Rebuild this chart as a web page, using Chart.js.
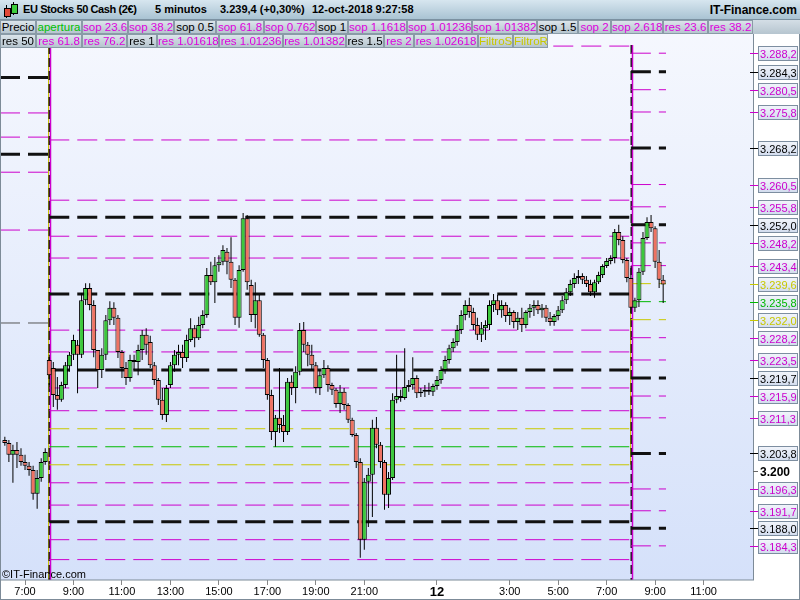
<!DOCTYPE html>
<html>
<head>
<meta charset="utf-8">
<script src="https://cdn.jsdelivr.net/npm/chart.js@4.4.1/dist/chart.umd.min.js"></script>
<style>
body { margin: 0; background: #fff; font-family: "Liberation Sans", Arial, sans-serif; }
#wrap { position: relative; width: 800px; height: 600px; overflow: hidden; }
#chart { position: absolute; left: 0; top: 0; }
#title { position: absolute; left: 0; top: 0; width: 800px; height: 20px; box-sizing: border-box;
  background: linear-gradient(#d7e6ef, #a9c3d3); border-bottom: 1px solid #7b91a1;
  font-weight: bold; font-size: 11px; }
#title span { position: absolute; top: 3px; white-space: nowrap; }
.row { position: absolute; left: 0; height: 14px; }
.btn { position: absolute; top: 0; height: 14px; box-sizing: border-box; border: 1px solid #8a9ba7;
  background: linear-gradient(#dbe4ea, #b6c5cf); font-size: 11.5px; line-height: 12px;
  text-align: center; white-space: nowrap; overflow: hidden; }
.m { color: #dd00dd; } .k { color: #000; } .g { color: #00c000; } .y { color: #c8c800; }
#copy { position: absolute; left: 2px; top: 568px; font-size: 11px; color: #000; }
</style>
</head>
<body>
<div id="wrap">
  <canvas id="chart" width="800" height="600"></canvas>

  <div id="title">
    <span style="left:3px;top:2px;width:16px;height:16px;">
      <span style="position:absolute;left:3px;top:3px;width:1px;height:13px;background:#000"></span>
      <span style="position:absolute;left:1px;top:6px;width:5px;height:7px;background:#e24a3a;border:1px solid #000"></span>
      <span style="position:absolute;left:10px;top:0px;width:1px;height:13px;background:#000"></span>
      <span style="position:absolute;left:8px;top:2px;width:5px;height:8px;background:#3ccc3c;border:1px solid #000"></span>
    </span>
    <span style="left:23px;letter-spacing:-0.4px">EU Stocks 50 Cash (2€)</span>
    <span style="left:155px">5 minutos</span>
    <span style="left:220px">3.239,4 (+0,30%)</span>
    <span style="left:312px">12-oct-2018 9:27:58</span>
    <span style="right:3px;font-size:12px">IT-Finance.com</span>
  </div>

  <div class="row" style="top:20px;width:800px;background:linear-gradient(#d4dee6,#b6c5cf);">
    <div class="btn k" style="left:0;width:36px">Precio</div>
    <div class="btn g" style="left:36px;width:46px">apertura</div>
    <div class="btn m" style="left:82px;width:46px">sop 23.6</div>
    <div class="btn m" style="left:128px;width:46px">sop 38.2</div>
    <div class="btn k" style="left:174px;width:42px">sop 0.5</div>
    <div class="btn m" style="left:216px;width:48px">sop 61.8</div>
    <div class="btn m" style="left:264px;width:52px">sop 0.762</div>
    <div class="btn k" style="left:316px;width:32px">sop 1</div>
    <div class="btn m" style="left:348px;width:59px">sop 1.1618</div>
    <div class="btn m" style="left:407px;width:65px">sop 1.01236</div>
    <div class="btn m" style="left:472px;width:65px">sop 1.01382</div>
    <div class="btn k" style="left:537px;width:41px">sop 1.5</div>
    <div class="btn m" style="left:578px;width:33px">sop 2</div>
    <div class="btn m" style="left:611px;width:52px">sop 2.618</div>
    <div class="btn m" style="left:663px;width:45px">res 23.6</div>
    <div class="btn m" style="left:708px;width:45px">res 38.2</div>
  </div>

  <div class="row" style="top:34px;width:548px;">
    <div class="btn k" style="left:0;width:36px">res 50</div>
    <div class="btn m" style="left:36px;width:46px">res 61.8</div>
    <div class="btn m" style="left:82px;width:45px">res 76.2</div>
    <div class="btn k" style="left:127px;width:30px">res 1</div>
    <div class="btn m" style="left:157px;width:62px">res 1.01618</div>
    <div class="btn m" style="left:219px;width:64px">res 1.01236</div>
    <div class="btn m" style="left:283px;width:63px">res 1.01382</div>
    <div class="btn k" style="left:346px;width:38px">res 1.5</div>
    <div class="btn m" style="left:384px;width:30px">res 2</div>
    <div class="btn m" style="left:414px;width:64px">res 1.02618</div>
    <div class="btn y" style="left:478px;width:35px">FiltroS</div>
    <div class="btn y" style="left:513px;width:35px">FiltroR</div>
  </div>

  <div id="copy">©IT-Finance.com</div>
</div>

<script>
// 10-minute bars, time in hours from 11-oct 0:00 (24 = 12-oct 0:00)
const firstBarHour = 6 + 10 / 60;
const barStepHours = 10 / 60;

const opens = [
  3206.6, 3206.0, 3203.5, 3204.5, 3203.5, 3202.0, 3201.2, 3200.3, 3195.3, 3198.6,
  3202.0, 3223.5, 3221.8, 3216.1, 3215.1, 3218.2, 3222.2, 3224.6, 3226.7, 3224.6,
  3236.1, 3238.7, 3235.1, 3225.6, 3221.4, 3224.6, 3231.9, 3234.5, 3232.4, 3225.2,
  3221.8, 3219.7, 3223.1, 3223.1, 3225.6, 3228.8, 3227.3, 3222.4, 3219.3, 3215.1,
  3211.9, 3218.2, 3222.4, 3224.6, 3225.2, 3223.9, 3227.7, 3230.2, 3228.1, 3230.9,
  3233.0, 3241.4, 3239.9, 3243.5, 3244.2, 3246.3, 3244.2, 3240.4, 3232.4, 3242.5,
  3253.4, 3239.3, 3233.0, 3236.1, 3228.8, 3223.5, 3216.1, 3208.3, 3211.3, 3209.8,
  3208.3, 3218.9, 3217.6, 3221.0, 3229.8, 3226.7, 3224.6, 3222.4, 3217.6, 3220.3,
  3221.8, 3218.2, 3217.2, 3214.2, 3216.8, 3214.0, 3210.9, 3207.7, 3202.0, 3185.6,
  3197.8, 3199.3, 3209.2, 3205.6, 3202.0, 3195.1, 3198.6, 3215.1, 3215.9, 3215.5,
  3217.8, 3218.2, 3219.7, 3216.5, 3216.8, 3217.2, 3216.8, 3218.0, 3219.3, 3221.4,
  3223.5, 3226.0, 3227.3, 3229.8, 3233.0, 3235.1, 3233.6, 3230.9, 3228.8, 3230.2,
  3230.9, 3235.1, 3236.1, 3234.0, 3235.1, 3232.8, 3233.6, 3231.5, 3232.4, 3230.9,
  3233.6, 3234.5, 3235.1, 3234.0, 3234.5, 3232.4, 3231.5, 3232.8, 3234.0, 3236.1,
  3237.8, 3239.5, 3240.8, 3241.2, 3240.4, 3239.5, 3237.8, 3239.9, 3241.4, 3243.3,
  3244.4, 3245.0, 3250.5, 3248.8, 3244.6, 3240.8, 3234.5, 3236.1, 3242.1, 3249.2,
  3252.6, 3251.3, 3244.2, 3240.4
];
const highs = [
  3207.3, 3206.6, 3205.6, 3206.2, 3204.9, 3203.5, 3202.0, 3201.2, 3200.3, 3202.8,
  3204.9, 3224.6, 3223.1, 3219.9, 3218.9, 3223.1, 3225.2, 3228.8, 3227.7, 3237.6,
  3239.7, 3239.7, 3236.1, 3225.6, 3226.0, 3233.0, 3235.9, 3235.7, 3233.0, 3225.6,
  3223.1, 3224.6, 3224.6, 3226.7, 3229.8, 3230.2, 3228.6, 3223.1, 3219.7, 3217.6,
  3218.2, 3223.1, 3225.6, 3226.7, 3226.7, 3228.8, 3232.3, 3230.9, 3232.6, 3234.0,
  3242.9, 3244.2, 3245.2, 3245.6, 3247.7, 3247.1, 3249.4, 3240.8, 3243.5, 3254.5,
  3254.1, 3240.4, 3239.9, 3237.2, 3229.2, 3223.9, 3217.2, 3211.9, 3221.8, 3211.9,
  3219.7, 3220.3, 3222.2, 3231.3, 3231.5, 3227.3, 3226.7, 3223.1, 3221.4, 3223.5,
  3222.4, 3218.7, 3217.6, 3218.2, 3217.6, 3214.4, 3211.3, 3208.1, 3202.8, 3198.6,
  3200.7, 3210.9, 3211.5, 3206.2, 3202.4, 3199.9, 3216.5, 3224.6, 3217.2, 3226.0,
  3219.3, 3224.1, 3220.3, 3217.6, 3218.2, 3218.7, 3218.5, 3220.1, 3222.2, 3224.4,
  3226.7, 3228.1, 3230.9, 3234.0, 3236.1, 3236.6, 3234.5, 3232.4, 3231.5, 3231.9,
  3236.1, 3237.4, 3237.2, 3236.1, 3235.7, 3234.5, 3234.0, 3233.6, 3234.5, 3234.0,
  3235.3, 3236.1, 3236.1, 3235.3, 3235.1, 3233.6, 3233.2, 3234.9, 3237.0, 3238.7,
  3240.4, 3241.8, 3242.5, 3241.8, 3241.2, 3240.4, 3240.4, 3242.1, 3243.7, 3245.0,
  3245.6, 3251.1, 3252.0, 3249.6, 3245.0, 3242.9, 3236.6, 3242.9, 3250.5, 3253.6,
  3254.1, 3251.7, 3246.7, 3241.4
];
const lows = [
  3205.4, 3202.0, 3197.6, 3200.7, 3201.2, 3200.3, 3199.1, 3194.0, 3192.1, 3197.8,
  3201.4, 3218.2, 3213.6, 3213.0, 3214.7, 3217.6, 3221.0, 3223.5, 3216.5, 3223.9,
  3235.1, 3234.0, 3224.1, 3217.6, 3219.7, 3223.5, 3230.9, 3230.9, 3223.9, 3219.7,
  3218.2, 3218.9, 3221.4, 3220.3, 3223.5, 3224.6, 3221.8, 3218.2, 3214.0, 3210.9,
  3210.4, 3217.6, 3221.0, 3222.4, 3221.8, 3223.1, 3227.3, 3226.2, 3227.7, 3230.2,
  3232.4, 3239.3, 3235.5, 3242.1, 3243.5, 3241.6, 3238.7, 3230.9, 3230.3, 3242.1,
  3238.3, 3231.5, 3230.2, 3228.4, 3221.8, 3215.1, 3206.6, 3205.2, 3208.1, 3206.2,
  3207.7, 3216.1, 3214.4, 3220.3, 3225.2, 3222.2, 3221.4, 3216.5, 3216.1, 3219.7,
  3216.8, 3216.1, 3213.4, 3212.3, 3213.0, 3210.2, 3207.3, 3200.7, 3181.8, 3183.5,
  3188.3, 3190.4, 3204.9, 3200.7, 3191.9, 3192.3, 3198.2, 3214.4, 3214.7, 3215.1,
  3216.8, 3217.2, 3215.5, 3215.7, 3215.7, 3216.1, 3215.9, 3217.2, 3218.5, 3220.6,
  3222.7, 3225.2, 3226.5, 3229.0, 3231.9, 3232.4, 3229.8, 3227.7, 3227.3, 3227.7,
  3229.8, 3233.6, 3233.0, 3232.4, 3231.5, 3230.9, 3230.2, 3229.8, 3229.4, 3230.2,
  3232.4, 3232.8, 3233.2, 3232.4, 3231.5, 3230.7, 3230.7, 3231.9, 3233.4, 3235.3,
  3237.0, 3238.7, 3239.5, 3239.5, 3238.9, 3237.0, 3236.6, 3239.5, 3240.8, 3242.9,
  3243.7, 3243.9, 3247.7, 3243.9, 3239.9, 3233.4, 3233.6, 3234.7, 3241.4, 3248.8,
  3250.5, 3242.9, 3238.7, 3235.5
];
const closes = [
  3206.0, 3203.5, 3204.5, 3203.5, 3202.0, 3201.2, 3200.3, 3195.3, 3198.6, 3202.0,
  3204.1, 3220.3, 3216.1, 3215.1, 3218.2, 3222.4, 3224.6, 3227.7, 3224.6, 3236.1,
  3238.7, 3235.1, 3225.6, 3221.4, 3224.6, 3231.9, 3234.5, 3232.4, 3225.2, 3221.8,
  3219.7, 3223.5, 3223.5, 3225.6, 3228.8, 3226.7, 3222.4, 3219.3, 3215.1, 3211.9,
  3217.6, 3222.4, 3224.6, 3225.2, 3223.9, 3227.7, 3230.2, 3228.1, 3230.9, 3233.0,
  3241.4, 3239.9, 3243.5, 3244.2, 3246.7, 3244.2, 3240.4, 3232.4, 3242.5, 3253.4,
  3239.9, 3233.0, 3236.1, 3228.8, 3223.5, 3216.1, 3208.3, 3211.3, 3209.8, 3208.3,
  3218.9, 3217.6, 3221.0, 3229.8, 3226.7, 3224.6, 3222.4, 3217.6, 3220.3, 3221.8,
  3218.2, 3217.2, 3214.2, 3216.8, 3214.0, 3210.9, 3207.7, 3202.0, 3185.6, 3197.8,
  3199.3, 3209.2, 3205.6, 3202.0, 3195.1, 3198.6, 3215.1, 3215.9, 3215.5, 3217.8,
  3218.2, 3219.7, 3216.5, 3216.8, 3217.2, 3216.8, 3218.0, 3219.3, 3221.4, 3223.5,
  3226.0, 3227.3, 3229.8, 3233.0, 3235.1, 3233.6, 3230.9, 3228.8, 3230.2, 3230.9,
  3235.1, 3236.1, 3234.0, 3235.1, 3232.8, 3233.6, 3231.5, 3232.4, 3230.9, 3233.6,
  3234.5, 3235.1, 3234.0, 3234.5, 3232.4, 3231.5, 3232.8, 3234.0, 3236.1, 3237.8,
  3239.5, 3240.8, 3241.2, 3240.4, 3239.5, 3237.8, 3239.9, 3241.4, 3243.3, 3244.4,
  3245.0, 3250.5, 3248.8, 3244.6, 3240.8, 3234.5, 3236.1, 3242.1, 3249.2, 3252.6,
  3251.3, 3244.2, 3240.4, 3239.4
];

// pivot levels per session: [before 8:00 11-oct, 11-oct session, 12-oct session]
const sessionStart = [5.967, 8, 32];
const sessionEnd = [8, 32, 33.45];
const magentaLevels = [
  [3275.6, 3270.5, 3263.1, 3250.9],
  [3289.7, 3269.9, 3257.2, 3249.6, 3245.0, 3229.8, 3225.2, 3217.6, 3212.8, 3197.6, 3192.9, 3185.6, 3181.4],
  [3288.2, 3280.5, 3275.8, 3260.5, 3255.8, 3248.2, 3243.4, 3228.2, 3223.5, 3215.9, 3211.3, 3196.3, 3191.7, 3184.3]
];
const blackLevels = [
  [3283.1, 3266.9],
  [3253.6, 3237.4, 3221.4, 3189.4],
  [3284.3, 3268.2, 3252.0, 3219.7, 3203.8, 3188.0]
];
const yellowLevels = [[], [3209.0, 3201.4], [3239.6, 3232.0]];
const greenLevels = [[], [3205.2], [3235.8]];
const greyLevels = [[3231.3], [], []];

const tickHours = [7, 9, 11, 13, 15, 17, 19, 21, 24, 27, 29, 31, 33, 35];
const tickLabels = ['7:00', '9:00', '11:00', '13:00', '15:00', '17:00', '19:00', '21:00', '12',
  '3:00', '5:00', '7:00', '9:00', '11:00'];
const boldTick = 3200;

const MAG = '#cc00cc', BLK = '#111', YEL = '#c8c800', GRN = '#00b800';

function fmt(v) {
  const [i, d] = v.toFixed(1).split('.');
  return i.replace(/\B(?=(\d{3})+(?!\d))/g, '.') + ',' + d;
}

function levelPoints(levels) {
  const pts = [];
  levels.forEach((day, d) => day.forEach(v => {
    pts.push({ x: sessionStart[d], y: v }, { x: sessionEnd[d], y: v }, { x: sessionEnd[d], y: null });
  }));
  return pts;
}

function levelSet(levels, color, width) {
  return {
    type: 'line', data: levelPoints(levels), borderColor: color, borderWidth: width,
    borderDash: [20, 8], pointRadius: 0, fill: false, spanGaps: false, order: 5
  };
}

const wicks = [], bodies = [], bodyColors = [];
opens.forEach((o, i) => {
  const t = firstBarHour + i * barStepHours;
  wicks.push({ x: t, y: [lows[i], highs[i]] });
  bodies.push({ x: t, y: [o, closes[i]] });
  bodyColors.push(closes[i] >= o ? '#3cc83c' : '#ee7262');
});

const plotBg = {
  id: 'plotBg',
  beforeDatasetsDraw(chart) {
    const { ctx, chartArea: a, scales: { x, y } } = chart;
    ctx.save();
    const g = ctx.createLinearGradient(0, a.top, 0, a.bottom);
    g.addColorStop(0, '#f6f8fe');
    g.addColorStop(1, '#d5e1fa');
    ctx.fillStyle = g;
    ctx.fillRect(a.left, a.top, a.right - a.left, a.bottom - a.top);
    // session change lines (the steps of the level lines)
    [8, 32].forEach((h, k) => {
      const px = Math.round(x.getPixelForValue(h));
      let yTop = a.top, yBot = a.bottom;
      if (k === 1) {
        yTop = y.getPixelForValue(Math.max(...yellowLevels[2]));
        yBot = y.getPixelForValue(Math.min(...yellowLevels[1]));
      }
      ctx.strokeStyle = YEL; ctx.lineWidth = 1;
      ctx.beginPath(); ctx.moveTo(px - 0.5, yTop); ctx.lineTo(px - 0.5, yBot); ctx.stroke();
      ctx.strokeStyle = BLK; ctx.lineWidth = 2; ctx.setLineDash([9, 4]);
      ctx.beginPath(); ctx.moveTo(px + 0.5, a.top + 25); ctx.lineTo(px + 0.5, a.bottom); ctx.stroke();
      ctx.setLineDash([]);
      ctx.strokeStyle = MAG; ctx.lineWidth = 1.5;
      ctx.beginPath(); ctx.moveTo(px + 1.5, a.top + 25); ctx.lineTo(px + 1.5, a.bottom); ctx.stroke();
    });
    ctx.restore();
  },
  afterDraw(chart) {
    const { ctx, chartArea: a, scales: { y } } = chart;
    ctx.save();
    ctx.strokeStyle = '#7d8b98'; ctx.lineWidth = 1;
    ctx.strokeRect(a.left + 0.5, a.top - 0.5, a.right - a.left, a.bottom - a.top + 0.5);
    ctx.strokeRect(0.5, 0.5, 799, 599);

    const groups = [[magentaLevels[2], MAG], [blackLevels[2], '#000'], [yellowLevels[2], YEL], [greenLevels[2], GRN]];
    ctx.textBaseline = 'middle';
    ctx.font = '11px "Liberation Sans", Arial, sans-serif';
    groups.forEach(([levels, color]) => levels.forEach(v => {
      const py = Math.round(y.getPixelForValue(v)) + 0.5;
      ctx.strokeStyle = color;
      ctx.beginPath(); ctx.moveTo(a.right - 3, py); ctx.lineTo(a.right + 5, py); ctx.stroke();
      const g = ctx.createLinearGradient(0, py - 7, 0, py + 7);
      g.addColorStop(0, '#f2f5fb'); g.addColorStop(1, '#d2dcee');
      ctx.fillStyle = g;
      ctx.fillRect(a.right + 5.5, py - 7, 39, 14);
      ctx.strokeStyle = '#7d8ea0';
      ctx.strokeRect(a.right + 5.5, py - 7, 39, 14);
      ctx.fillStyle = color;
      ctx.fillText(fmt(v), a.right + 7, py + 1);
    }));
    const py = Math.round(y.getPixelForValue(boldTick)) + 0.5;
    ctx.strokeStyle = '#666';
    ctx.beginPath(); ctx.moveTo(a.right, py); ctx.lineTo(a.right + 5, py); ctx.stroke();
    ctx.fillStyle = '#000';
    ctx.font = 'bold 12px "Liberation Sans", Arial, sans-serif';
    ctx.fillText('3.200', a.right + 7, py + 1);
    ctx.restore();
  }
};

new Chart(document.getElementById('chart').getContext('2d'), {
  type: 'bar',
  data: {
    datasets: [
      levelSet(greyLevels, '#555', 1),
      levelSet(magentaLevels, MAG, 1),
      levelSet(yellowLevels, YEL, 1),
      levelSet(greenLevels, GRN, 1),
      levelSet(blackLevels, BLK, 3),
      { data: wicks, backgroundColor: '#000', barThickness: 1, grouped: false, inflateAmount: 0, order: 2 },
      { data: bodies, backgroundColor: bodyColors, borderColor: '#000', borderWidth: 1, borderSkipped: false,
        barThickness: 5, grouped: false, inflateAmount: 0, order: 1 }
    ]
  },
  options: {
    responsive: false,
    animation: false,
    layout: { padding: { top: 20, left: 0, right: 0, bottom: 0 } },
    plugins: { legend: { display: false }, tooltip: { enabled: false } },
    scales: {
      x: {
        type: 'linear', min: 5.967, max: 37.04, offset: false,
        grid: { offset: false, drawOnChartArea: false, drawTicks: true, tickLength: 5, color: '#888' },
        border: { display: false },
        ticks: {
          autoSkip: false, maxRotation: 0, padding: 0, color: '#000',
          font: c => ({ family: '"Liberation Sans", Arial, sans-serif',
            size: c.tick && c.tick.value === 24 ? 13 : 11,
            weight: c.tick && c.tick.value === 24 ? 'bold' : 'normal' }),
          callback: v => tickLabels[tickHours.indexOf(v)]
        },
        afterBuildTicks: s => { s.ticks = tickHours.map(v => ({ value: v })); },
        afterFit: s => { s.height = 20; s.paddingLeft = 0; s.paddingRight = 0; }
      },
      y: {
        position: 'right', min: 3177.1, max: 3295.2,
        grid: { display: false }, border: { display: false },
        ticks: { display: false },
        afterFit: s => { s.width = 47; s.paddingTop = 0; s.paddingBottom = 0; }
      }
    }
  },
  plugins: [plotBg]
});
</script>
</body>
</html>
